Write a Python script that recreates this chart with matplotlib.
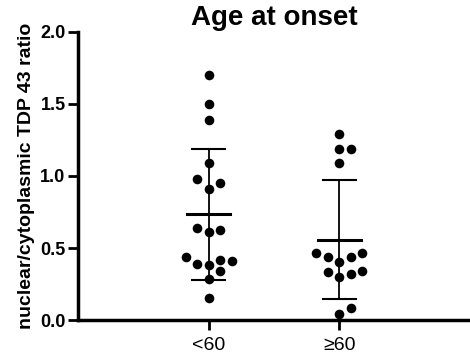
import matplotlib
matplotlib.use("Agg")
import matplotlib.pyplot as plt
import numpy as np

plt.rcParams['font.family'] = ['Liberation Sans', 'DejaVu Sans']

title = "Age at onset"
ylabel = "nuclear/cytoplasmic TDP 43 ratio"
groups = ["<60", "\u226560"]

# values
under_60 = [1.70, 1.50, 1.39, 1.09, 0.95, 0.98, 0.91, 0.625, 0.61, 0.64,
            0.435, 0.41, 0.38, 0.39, 0.42, 0.34, 0.285, 0.15]
over_60 = [1.29, 1.19, 1.19, 1.09, 0.463, 0.435, 0.405, 0.435, 0.463,
           0.343, 0.317, 0.296, 0.336, 0.085, 0.04]
data = [under_60, over_60]


def swarm_offsets(values, ax, center, diam_px=10.5, step_px=11.5):
    # simple beeswarm: place points by value, nudging sideways on collision
    to_px = ax.transData.transform
    vals = np.array(values)
    order = np.argsort(vals)
    placed = []
    xs = np.zeros(len(vals))
    px_per_x = to_px((1, 0))[0] - to_px((0, 0))[0]
    for i in order:
        ypx = to_px((center, vals[i]))[1]
        for k in [0, 1, -1, 2, -2, 3, -3, 4, -4]:
            xpx = k * step_px
            if all((xpx - p[0]) ** 2 + (ypx - p[1]) ** 2 >= diam_px ** 2 for p in placed):
                break
        placed.append((xpx, ypx))
        xs[i] = center + xpx / px_per_x
    return xs


fig = plt.figure(figsize=(4.7, 3.58), dpi=100)
ax = fig.add_axes([0.166, 0.106, 0.834, 0.805])
ax.set_xlim(0, 3)
ax.set_ylim(0, 2.0)

for i, vals in enumerate(data):
    pos = i + 1
    xs = swarm_offsets(vals, ax, pos)
    ax.scatter(xs, vals, s=48, c="black", zorder=3, clip_on=False, linewidths=0)
    m = np.mean(vals)
    sd = np.std(vals, ddof=1)
    ax.plot([pos, pos], [m - sd, m + sd], c="black", lw=1.3, zorder=2)
    ax.plot([pos - 0.125, pos + 0.125], [m + sd] * 2, c="black", lw=1.5, zorder=2)
    ax.plot([pos - 0.125, pos + 0.125], [m - sd] * 2, c="black", lw=1.5, zorder=2)
    ax.plot([pos - 0.165, pos + 0.165], [m, m], c="black", lw=2.2, zorder=2)

ax.set_xticks([1, 2])
ax.set_xticklabels(groups, fontsize=14)
ax.set_yticks([0, 0.5, 1.0, 1.5, 2.0])
ax.set_yticklabels(["0.0", "0.5", "1.0", "1.5", "2.0"], fontsize=13, fontweight="bold")
ax.set_ylabel(ylabel, fontsize=14, fontweight="bold", labelpad=4)
ax.set_title(title, fontsize=20, fontweight="bold", pad=5)

for s in ["top", "right"]:
    ax.spines[s].set_visible(False)
for s in ["left", "bottom"]:
    ax.spines[s].set_linewidth(2.5)
ax.tick_params(width=2, length=7, pad=2)
ax.tick_params(axis="x", pad=5)

fig.savefig("out.png", dpi=100)
